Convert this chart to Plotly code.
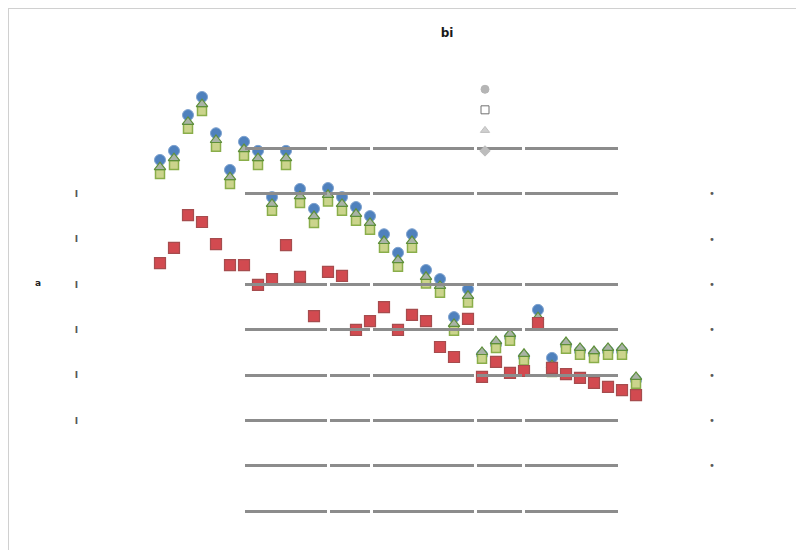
import plotly.graph_objects as go

# ---- data ----
x_idx = list(range(1, 36))

blue_circle = [7.75, 7.95, 8.74, 9.14, 8.34, 7.53, 8.15, 7.95, 6.93, 7.95,
               7.11, 6.67, 7.13, 6.93, 6.71, 6.51, 6.11, 5.70, 6.11, 5.32,
               5.12, 4.28, 4.90, 3.45, 3.68, 3.84, 3.40, 4.44, 3.38, 3.66,
               3.53, 3.46, 3.53, 3.53, 2.89]

green_triangle = [7.59, 7.79, 8.59, 8.98, 8.19, 7.37, 7.99, 7.79, 6.78, 7.79,
                  6.95, 6.51, 6.98, 6.78, 6.56, 6.36, 5.96, 5.54, 5.96, 5.17,
                  4.97, 4.13, 4.75, 3.51, 3.75, 3.91, 3.47, 4.28, 3.22, 3.73,
                  3.60, 3.53, 3.60, 3.60, 2.96]

olive_square = [7.44, 7.64, 8.44, 8.83, 8.04, 7.22, 7.84, 7.64, 6.63, 7.64,
                6.80, 6.36, 6.83, 6.63, 6.41, 6.21, 5.81, 5.39, 5.81, 5.02,
                4.82, 3.98, 4.60, 3.36, 3.60, 3.76, 3.32, 4.13, 3.07, 3.58,
                3.45, 3.38, 3.45, 3.45, 2.81]

red_square = [5.47, 5.81, 6.53, 6.38, 5.89, 5.43, 5.43, 4.99, 5.12, 5.87,
              5.17, 4.30, 5.28, 5.19, 4.00, 4.19, 4.50, 4.00, 4.33, 4.19,
              3.62, 3.40, 4.24, 2.96, 3.29, 3.05, 3.09, 4.15, 3.16, 3.02,
              2.94, 2.83, 2.74, 2.67, 2.56]

grid_vals = [0, 1, 2, 3, 4, 5, 7, 8]
left_tick_vals = [2, 3, 4, 5, 6, 7]
left_tick_text = ["I", "I", "I", "I", "I", "I"]
right_tick_vals = [1, 2, 3, 4, 5, 6, 7]
right_tick_text = ["•", "•", "•", "•", "•", "•", "•"]
title_text = "bi"
y_title_text = "a"

# page body adds an 8px margin, so the figure is laid out in shifted pixels
OFF = 8
W, H = 804 - OFF, 550 - OFF


def px(x):
    return (x - OFF) / W


def py(y):
    return 1 - (y - OFF) / H


Y_RANGE = [-0.861, 11.104]

fig = go.Figure()

fig.add_trace(go.Scatter(x=x_idx, y=blue_circle, mode="markers", showlegend=False,
                         marker=dict(symbol="circle", size=11, color="#4F81BD",
                                     line=dict(color="#7FA3D0", width=1))))
fig.add_trace(go.Scatter(x=x_idx, y=olive_square, mode="markers", showlegend=False,
                         marker=dict(symbol="square", size=9, color="#CBD48C",
                                     line=dict(color="#8AAE4A", width=1.5))))
fig.add_trace(go.Scatter(x=x_idx, y=green_triangle, mode="markers", showlegend=False,
                         marker=dict(symbol="triangle-up", size=10, color="#A9B3A6",
                                     line=dict(color="#5E8F3A", width=1.2))))
fig.add_trace(go.Scatter(x=x_idx, y=red_square, mode="markers", showlegend=False,
                         marker=dict(symbol="square", size=11, color="#D24A50",
                                     line=dict(color="#A64C4E", width=1.2))))

# legend entries (faint grey symbols, no visible text)
legend_specs = [("circle", "#B5B5B5", "#B5B5B5"),
                ("square-open", "#707070", "#707070"),
                ("triangle-up", "#D0D0D0", "#BDBDBD"),
                ("diamond", "#BDBDBD", "#BDBDBD")]
for sym, col, lc in legend_specs:
    fig.add_trace(go.Scatter(x=[None], y=[None], mode="markers", name=" ",
                             marker=dict(symbol=sym, size=8, color=col,
                                         line=dict(color=lc, width=1))))

# invisible trace so the right-hand axis is drawn
fig.add_trace(go.Scatter(x=[None], y=[None], yaxis="y7", showlegend=False,
                         hoverinfo="skip"))

layout = dict(
    width=W, height=H,
    margin=dict(l=0, r=0, t=0, b=0),
    paper_bgcolor="white", plot_bgcolor="rgba(0,0,0,0)",
    title=dict(text="<b>" + title_text + "</b>", x=px(447), y=py(33),
               xanchor="center", yanchor="middle",
               font=dict(size=12, color="#1A1A1A", family="DejaVu Sans")),
    showlegend=True,
    legend=dict(x=px(485 - 20), y=py(74), xanchor="left", yanchor="top",
                bgcolor="rgba(0,0,0,0)", font=dict(size=13.5), tracegroupgap=0),
    xaxis=dict(domain=[px(90), px(700)], range=[-4, 39.571], visible=False),
    yaxis=dict(domain=[0, 1], range=Y_RANGE, showgrid=False, zeroline=False,
               tickvals=left_tick_vals, ticktext=left_tick_text, ticks="",
               ticklabelstandoff=11,
               tickfont=dict(size=9, color="#555555", family="DejaVu Sans",
                             weight="bold")),
    yaxis7=dict(overlaying="y", side="right", anchor="x", range=Y_RANGE,
                showgrid=False, zeroline=False, tickvals=right_tick_vals,
                ticktext=right_tick_text, ticks="", ticklabelstandoff=8,
                tickfont=dict(size=10, color="#5A5A5A", family="DejaVu Sans")),
    annotations=[dict(text="<b>" + y_title_text + "</b>", x=px(33), y=py(283),
                      xref="paper", yref="paper", showarrow=False,
                      font=dict(size=9, color="#222222", family="DejaVu Sans"))],
    shapes=[dict(type="line", xref="paper", yref="paper", x0=0, x1=1,
                 y0=1, y1=1, line=dict(color="#D0D0D0", width=2)),
            dict(type="line", xref="paper", yref="paper", x0=0, x1=0,
                 y0=0, y1=1, line=dict(color="#D0D0D0", width=2))],
)

# gridline segments (separated by small gaps)
segments = [(245, 327), (330, 370), (373, 474), (477, 522), (525, 618)]
for k, (a, b) in enumerate(segments, start=2):
    layout["xaxis%d" % k] = dict(domain=[px(a), px(b)], range=[0, 1],
                                 visible=False, anchor="y%d" % k)
    layout["yaxis%d" % k] = dict(domain=[0, 1], range=Y_RANGE, anchor="x%d" % k,
                                 tickvals=grid_vals, showticklabels=False,
                                 showgrid=True, gridcolor="#8C8C8C", gridwidth=2.5,
                                 zeroline=False, showline=False, ticks="")
    fig.add_trace(go.Scatter(x=[None], y=[None], xaxis="x%d" % k, yaxis="y%d" % k,
                             showlegend=False, hoverinfo="skip"))

fig.update_layout(**layout)
fig.write_html("out.html")
